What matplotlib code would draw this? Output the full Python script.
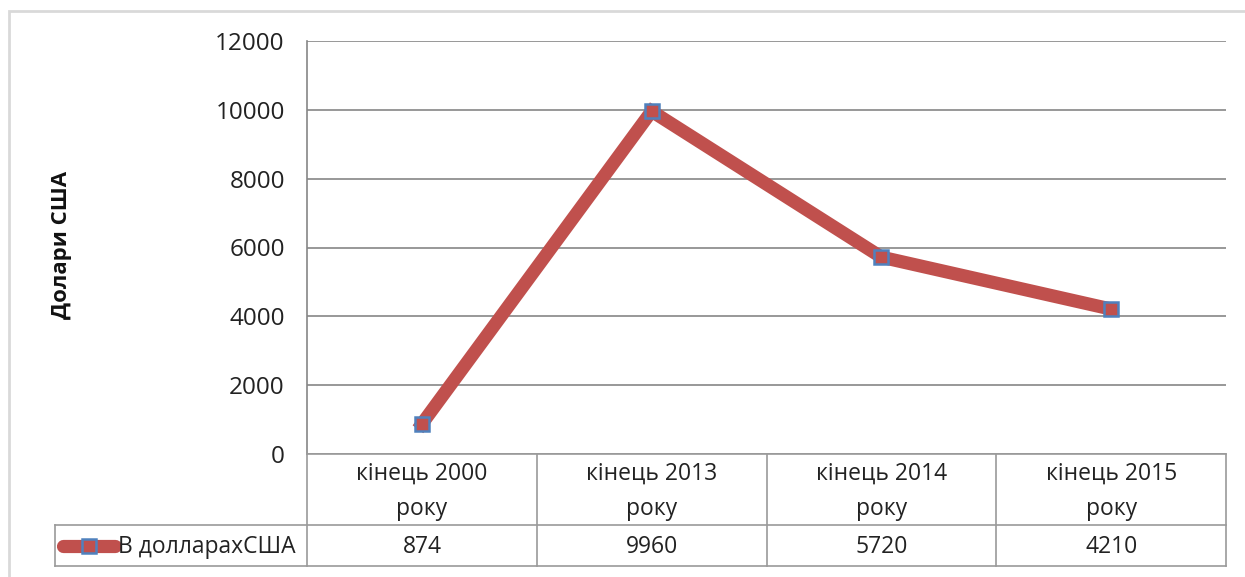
import matplotlib
matplotlib.use("Agg")
import matplotlib.pyplot as plt
from matplotlib.patches import Rectangle
from matplotlib.lines import Line2D

plt.rcParams['font.family'] = ['Open Sans', 'DejaVu Sans']

categories = ["кінець 2000\nроку", "кінець 2013\nроку", "кінець 2014\nроку", "кінець 2015\nроку"]
values = [874, 9960, 5720, 4210]
series_name = "В долларахСША"
y_label = "Долари США"
y_ticks = [0, 2000, 4000, 6000, 8000, 10000, 12000]

W, H = 1245, 577
RED = "#C0504D"
BLUE = "#4F81BD"
GRID = "#868686"
TAB = "#9A9A9A"

fig = plt.figure(figsize=(W / 100, H / 100), dpi=100)

# outer chart frame (runs off the right and bottom edges)
fig.patches.append(Rectangle((9 / W, -0.05), 1.1, (577 - 11) / H + 0.05,
                             transform=fig.transFigure, fill=False,
                             edgecolor="#D9D9D9", linewidth=2))

# plot area
left, right, top, bot = 307, 1226, 41, 454
ax = fig.add_axes([left / W, 1 - bot / H, (right - left) / W, (bot - top) / H])
x = [i + 0.5 for i in range(len(values))]
ax.plot(x, values, color=RED, linewidth=9.5, solid_joinstyle="miter",
        marker="s", markersize=10, markerfacecolor=RED,
        markeredgecolor=BLUE, markeredgewidth=1.8, zorder=3)
ax.set_xlim(0, len(values))
ax.set_ylim(0, 12000)
ax.set_yticks(y_ticks)
ax.set_yticklabels([str(t) for t in y_ticks], fontsize=17.5, color="#222222")
ax.set_xticks([])
ax.tick_params(axis="y", length=0, pad=16)
ax.grid(axis="y", color=GRID, linewidth=1.2)
for s in ["top", "right", "bottom"]:
    ax.spines[s].set_visible(False)
ax.spines["left"].set_color(GRID)
ax.spines["left"].set_linewidth(1.2)
ax.set_axisbelow(True)
fig.text(62 / W, 1 - 245 / H, y_label, rotation=90, fontsize=16,
         fontweight="bold", ha="center", va="center", color="#111111")

# data table under the plot
tb_top, tb_mid, tb_bot = 454, 525, 566
tax = fig.add_axes([left / W, 1 - tb_bot / H, (right - left) / W, (tb_bot - tb_top) / H])
tax.set_xlim(0, len(values))
tax.set_ylim(tb_bot, tb_top)
tax.axis("off")
leg_left = (55 - left) / (right - left) * len(values)
kw = dict(color=TAB, linewidth=1.2, clip_on=False)
tax.plot([0, len(values)], [tb_top, tb_top], **kw)
tax.plot([leg_left, len(values)], [tb_mid, tb_mid], **kw)
tax.plot([leg_left, len(values)], [tb_bot, tb_bot], **kw)
tax.plot([leg_left, leg_left], [tb_mid, tb_bot], **kw)
for i in range(len(values) + 1):
    tax.plot([i, i], [tb_top, tb_bot], **kw)
for i, (c, v) in enumerate(zip(categories, values)):
    tax.text(i + 0.5, (tb_top + tb_mid) / 2 + 2, c, ha="center", va="center",
             fontsize=16.5, color="#222222", linespacing=1.6)
    tax.text(i + 0.5, (tb_mid + tb_bot) / 2 + 1, str(v), ha="center", va="center",
             fontsize=16.5, color="#222222")

# legend key inside the table
px = len(values) / (right - left)
ly = (tb_mid + tb_bot) / 2
tax.add_line(Line2D([leg_left + 8 * px, leg_left + 60 * px], [ly, ly], color=RED,
                    linewidth=9.5, solid_capstyle="round", clip_on=False))
tax.add_line(Line2D([leg_left + 34 * px], [ly], marker="s", markersize=10,
                    markerfacecolor=RED, markeredgecolor=BLUE,
                    markeredgewidth=1.8, clip_on=False))
tax.text(leg_left + 63 * px, ly + 1, series_name, ha="left", va="center",
         fontsize=16.5, color="#222222")

fig.savefig("out.png", dpi=100)
